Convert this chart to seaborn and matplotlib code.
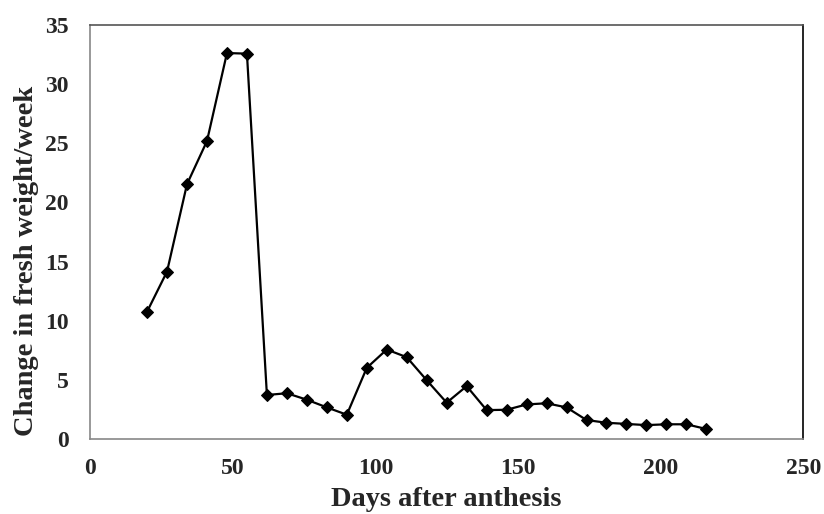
import matplotlib
matplotlib.use("Agg")
import matplotlib.pyplot as plt
import seaborn as sns
import pandas as pd

days = [20, 27, 34, 41, 48, 55, 62, 69, 76, 83, 90, 97, 104, 111, 118, 125,
        132, 139, 146, 153, 160, 167, 174, 181, 188, 195, 202, 209, 216]
change = [10.75, 14.15, 21.55, 25.2, 32.65, 32.6, 3.7, 3.85, 3.3, 2.65, 2.03,
          6.0, 7.55, 6.9, 4.95, 3.05, 4.45, 2.42, 2.45, 2.9, 3.0, 2.65, 1.58,
          1.35, 1.25, 1.15, 1.22, 1.22, 0.82]
x_ticks = [0, 50, 100, 150, 200, 250]
y_ticks = [0, 5, 10, 15, 20, 25, 30, 35]

sns.set_style("white")
plt.rcParams["font.family"] = ["Liberation Serif", "DejaVu Serif"]
plt.rcParams["font.weight"] = "bold"

df = pd.DataFrame({"day": days, "change": change})

fig = plt.figure(figsize=(8.24, 5.14), dpi=100)
ax = fig.add_axes([0.1092, 0.1465, 0.8658, 0.8043])

sns.lineplot(data=df, x="day", y="change", ax=ax, color="black",
             linewidth=1.6, marker="D", markersize=6.5,
             markeredgecolor="black", markerfacecolor="black")

ax.set_xlim(0, 250)
ax.set_ylim(0, 35)
ax.set_xticks(x_ticks)
ax.set_yticks(y_ticks)
ax.set_xticklabels([str(v) for v in x_ticks], fontsize=17, fontweight="bold")
ax.set_yticklabels([str(v) for v in y_ticks], fontsize=17, fontweight="bold")
ax.tick_params(axis="both", direction="out", length=5, width=1,
               color="#888888")
ax.tick_params(axis="y", pad=10.5)
ax.tick_params(axis="x", pad=9)

ax.set_xlabel("Days after anthesis", fontsize=20.5, fontweight="bold",
              labelpad=6)
ax.set_ylabel("Change in fresh weight/week", fontsize=20.5, fontweight="bold")
ax.yaxis.set_label_coords(-0.072, 0.431)

for side in ["left", "bottom"]:
    ax.spines[side].set_color("#888888")
    ax.spines[side].set_linewidth(1.2)
ax.spines["top"].set_color("#555555")
ax.spines["top"].set_linewidth(1.2)
ax.spines["right"].set_color("black")
ax.spines["right"].set_linewidth(1.2)

fig.savefig("out.png", dpi=100)
